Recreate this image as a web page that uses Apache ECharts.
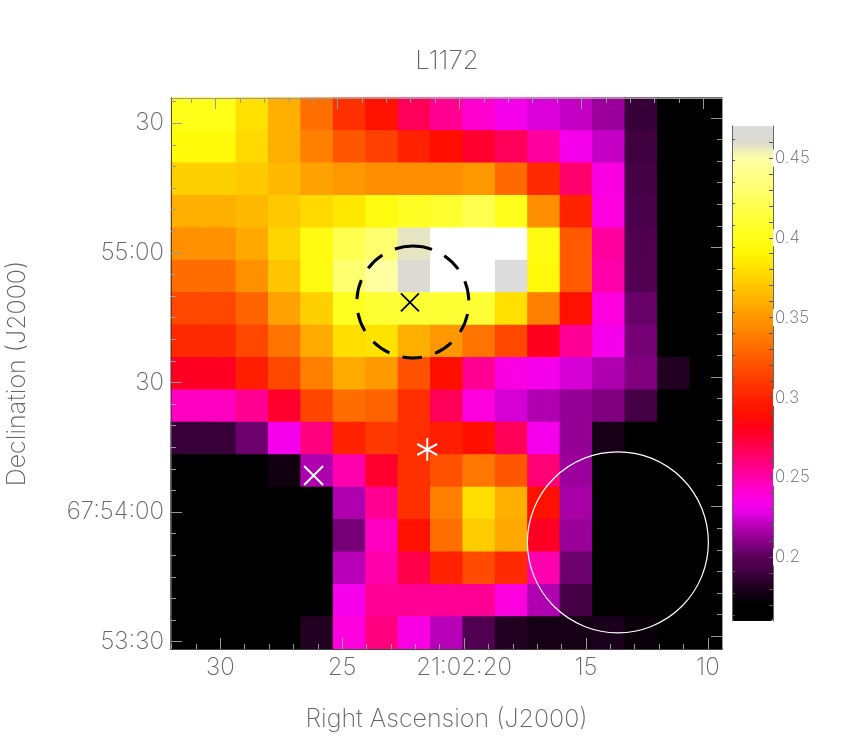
<!DOCTYPE html>
<html>
<head>
<meta charset="utf-8">
<title>L1172</title>
<script src="https://cdn.jsdelivr.net/npm/echarts@6/dist/echarts.min.js"></script>
<style>
  html, body { margin: 0; padding: 0; background: #fff; }
  #chart { width: 864px; height: 747px; }
</style>
</head>
<body>
<div id="chart"></div>
<script>
// pixel values, top row first
const cellRows = [
  [.40,.40,.381,.36,.333,.306,.292,.267,.255,.242,.2325,.226,.222,.214,.188,.165,.165],
  [.394,.394,.378,.36,.34,.322,.313,.30,.29,.276,.267,.2525,.2325,.222,.19,.165,.165],
  [.374,.374,.371,.364,.354,.35,.346,.346,.346,.35,.331,.303,.263,.236,.192,.165,.165],
  [.36,.36,.364,.371,.378,.384,.396,.405,.41,.42,.40,.346,.30,.238,.194,.165,.165],
  [.347,.347,.357,.376,.396,.42,.43,.457,.48,.48,.48,.396,.324,.2525,.197,.165,.165],
  [.332,.332,.347,.369,.396,.43,.448,.463,.48,.48,.47,.394,.324,.25,.198,.165,.165],
  [.316,.316,.328,.354,.374,.403,.412,.412,.412,.412,.381,.34,.291,.238,.203,.165,.165],
  [.303,.303,.316,.335,.358,.38,.382,.36,.35,.335,.316,.279,.254,.2325,.206,.165,.165],
  [.278,.278,.298,.316,.34,.358,.351,.32,.29,.255,.236,.2325,.225,.218,.208,.182,.165],
  [.245,.245,.255,.276,.315,.332,.328,.305,.267,.238,.225,.218,.212,.208,.192,.165,.165],
  [.188,.188,.204,.2325,.259,.30,.31,.305,.298,.29,.267,.2325,.212,.178,.165,.165,.165],
  [.165,.165,.165,.176,.218,.249,.276,.306,.32,.336,.322,.261,.214,.165,.165,.165,.165],
  [.165,.165,.165,.165,.165,.218,.255,.306,.34,.38,.36,.291,.216,.165,.165,.165,.165],
  [.165,.165,.165,.165,.165,.206,.245,.291,.333,.372,.357,.278,.213,.165,.165,.165,.165],
  [.165,.165,.165,.165,.165,.22,.25,.27,.30,.317,.303,.249,.204,.165,.165,.165,.165],
  [.165,.165,.165,.165,.165,.2325,.254,.254,.254,.254,.238,.218,.192,.165,.165,.165,.165],
  [.165,.165,.165,.165,.182,.238,.259,.236,.22,.197,.182,.178,.178,.18,.174,.165,.165]
];

// colour table, one entry per 0.01 from 0.16 to 0.47
const barColors = [
  '#000000','#000000','#1a001a','#400040','#580058','#8a008a','#b800b8','#f000f0',
  '#ff00d8','#ff00aa','#ff007a','#ff004b','#ff001b','#ff0f00','#ff2200','#ff3900',
  '#ff5100','#ff6800','#ff8000','#ff9700','#ffaf00','#ffc700','#ffde00','#fff600',
  '#ffff1a','#ffff30','#ffff50','#ffff70','#ffff88','#ffffa8','#dadad0','#dcdcdc'
];

const raMajor = [30, 25, 20, 15, 10];
const raLabels = ['30', '25', '21:02:20', '15', '10'];
const raMinor = [32, 31, 29, 28, 27, 26, 24, 23, 22, 21, 19, 18, 17, 16, 14, 13, 12, 11];
const decMajor = [90, 60, 30, 0, -30];
const decLabels = ['30', '55:00', '30', '67:54:00', '53:30'];
const decMinor = [95, 85, 80, 75, 70, 65, 55, 50, 45, 40, 35, 25, 20, 15, 10, 5, -5, -10, -15, -20, -25];
const barMajor = [.45, .4, .35, .3, .25, .2];
const barMinor = [.46, .44, .43, .42, .41, .39, .38, .37, .36, .34, .33, .32, .31, .29, .28, .27, .26, .24, .23, .22, .21, .19, .18, .17];
const barLeftTicks = [0,1,2,3,4,5,6,7,8,9,10,11,12,13,14,15,16,17,18,19,20,21,22];

const blackCross = [[22.22, 48.5]];
const whiteCross = [[26.17, 8.45]];
const whiteStar = [[21.51, 14.47]];
const beamDashed = [[22.10, 48.6]];
const beamSolid = [[13.69, -7.01]];

const FONT = 'Inter';
const WEIGHT = 200;
const TEXT = '#666';

var cells = [];
cellRows.forEach(function (row, r) {
  row.forEach(function (v, c) { cells.push([c, r, v]); });
});
var idx = cellRows[0].map(function (_, i) { return i; });

var box = { left: 171, top: 98, width: 551, height: 551, outerBoundsMode: 'none' };
var bar = { left: 732, top: 126, width: 41, height: 495, outerBoundsMode: 'none' };

function xTicks(grid, pos, min, max, vals, len, color, labels) {
  return {
    type: 'value', gridIndex: grid, position: pos, min: min, max: max, inverse: true, z: 3,
    splitLine: { show: false },
    axisLine: { show: true, onZero: false, lineStyle: { color: color } },
    axisTick: { show: true, inside: true, length: len, customValues: vals, lineStyle: { color: '#999' } },
    axisLabel: labels ? {
      customValues: vals, margin: 7, color: TEXT, fontFamily: FONT, fontWeight: WEIGHT, fontSize: 24,
      formatter: function (v) { return labels[vals.indexOf(v)]; }
    } : { show: false }
  };
}

function yTicks(grid, pos, min, max, vals, len, color, labels) {
  return {
    type: 'value', gridIndex: grid, position: pos, min: min, max: max, z: 3,
    splitLine: { show: false },
    axisLine: { show: true, onZero: false, lineStyle: { color: color } },
    axisTick: { show: true, inside: true, length: len, customValues: vals, lineStyle: { color: '#999' } },
    axisLabel: labels ? {
      customValues: vals, margin: 7, color: TEXT, fontFamily: FONT, fontWeight: WEIGHT, fontSize: 24,
      formatter: function (v) { return labels[vals.indexOf(v)]; }
    } : { show: false }
  };
}

function hiddenCat(grid, inverse) {
  return { type: 'category', gridIndex: grid, data: idx, show: false, inverse: inverse };
}

// cell edges fall between pixels, so the map is drawn three times to close the seams
function heatLayer() {
  return {
    type: 'heatmap', xAxisIndex: 0, yAxisIndex: 0, data: cells, z: 1, silent: true,
    progressive: 0, emphasis: { disabled: true },
    itemStyle: { borderWidth: 0, borderColor: 'transparent' }
  };
}

var nameStyle = { color: TEXT, fontFamily: FONT, fontWeight: WEIGHT, fontSize: 25 };

var xBottom = xTicks(1, 'bottom', 9.42, 32.02, raMajor, 11, '#444', raLabels);
xBottom.name = 'Right Ascension (J2000)';
xBottom.nameLocation = 'middle';
xBottom.nameGap = 58;
xBottom.nameTextStyle = nameStyle;

var yLeft = yTicks(1, 'left', -31.71, 95.83, decMajor, 11, '#444', decLabels);
yLeft.name = 'Declination (J2000)';
yLeft.nameLocation = 'middle';
yLeft.nameGap = 141;
yLeft.nameTextStyle = nameStyle;

var option = {
  animation: false,
  backgroundColor: '#fff',
  title: {
    text: 'L1172', left: 447, top: 48, textAlign: 'center', padding: 0,
    textStyle: { color: TEXT, fontFamily: FONT, fontSize: 26, fontWeight: WEIGHT }
  },
  grid: [
    Object.assign({}, box),
    Object.assign({}, box),
    Object.assign({}, box),
    Object.assign({}, bar)
  ],
  xAxis: [
    hiddenCat(0, false),
    xBottom,
    xTicks(1, 'top', 9.233, 31.83, raMajor, 11, '#999'),
    xTicks(2, 'bottom', 9.42, 32.02, raMinor, 5, '#444'),
    xTicks(2, 'top', 9.233, 31.83, raMinor, 5, '#999'),
    { type: 'value', gridIndex: 3, show: false, min: 0, max: 1 }
  ],
  yAxis: [
    hiddenCat(0, true),
    yLeft,
    yTicks(1, 'right', -32.94, 94.6, decMajor, 11, '#999'),
    yTicks(2, 'left', -31.71, 95.83, decMinor, 5, '#444'),
    yTicks(2, 'right', -32.94, 94.6, decMinor, 5, '#999'),
    {
      type: 'value', gridIndex: 3, position: 'right', min: .16, max: .47, z: 5,
      splitLine: { show: false },
      axisLine: { show: true, onZero: false, lineStyle: { color: '#666' } },
      axisTick: { show: true, inside: true, length: 4, customValues: barMajor.concat(barMinor), lineStyle: { color: '#555' } },
      axisLabel: {
        customValues: barMajor, margin: 0, color: TEXT, fontFamily: FONT, fontWeight: WEIGHT, fontSize: 17,
        backgroundColor: '#fff', padding: [0, 0, 0, 2],
        formatter: function (v) { return String(v); }
      }
    },
    {
      type: 'value', gridIndex: 3, position: 'left', min: -.277, max: 22.59, z: 5,
      splitLine: { show: false },
      axisLine: { show: true, onZero: false, lineStyle: { color: '#666' } },
      axisTick: { show: true, inside: true, length: 3, customValues: barLeftTicks, lineStyle: { color: '#555' } },
      axisLabel: { show: false }
    }
  ],
  visualMap: [
    {
      type: 'continuous', show: false, seriesIndex: [0, 1, 2], min: .16, max: .48,
      inRange: { color: barColors.concat('#ffffff') }
    },
    {
      type: 'continuous', show: true, seriesIndex: [], min: .16, max: .47,
      calculable: false, hoverLink: false, realtime: false,
      left: bar.left, top: bar.top, padding: 0, itemWidth: bar.width, itemHeight: bar.height,
      text: null, showLabel: false,
      inRange: { color: barColors }
    }
  ],
  series: [
    heatLayer(),
    heatLayer(),
    heatLayer(),
    {
      type: 'scatter', xAxisIndex: 1, yAxisIndex: 1, data: beamDashed, z: 4, silent: true,
      symbol: 'path://M56 0A56 56 0 1 1 56 112A56 56 0 1 1 56 0', symbolSize: 112,
      itemStyle: { color: 'none', borderColor: '#000', borderWidth: 3, borderType: [19.5, 13.8], opacity: 1 }
    },
    {
      type: 'scatter', xAxisIndex: 1, yAxisIndex: 1, data: beamSolid, z: 4, silent: true,
      symbol: 'circle', symbolSize: 181,
      itemStyle: { color: 'transparent', borderColor: '#fff', borderWidth: 1.2, opacity: 1 }
    },
    {
      type: 'scatter', xAxisIndex: 1, yAxisIndex: 1, data: blackCross, z: 4, silent: true,
      symbol: 'path://M0 0L20 20M20 0L0 20', symbolSize: 18,
      itemStyle: { color: 'none', borderColor: '#000', borderWidth: 1.8, opacity: 1 }
    },
    {
      type: 'scatter', xAxisIndex: 1, yAxisIndex: 1, data: whiteCross, z: 4, silent: true,
      symbol: 'path://M0 0L20 20M20 0L0 20', symbolSize: 19,
      itemStyle: { color: 'none', borderColor: '#fff', borderWidth: 2, opacity: 1 }
    },
    {
      type: 'scatter', xAxisIndex: 1, yAxisIndex: 1, data: whiteStar, z: 4, silent: true,
      symbol: 'path://M10 0L10 23M0 6L20 17M0 17L20 6', symbolSize: [20, 23],
      itemStyle: { color: 'none', borderColor: '#fff', borderWidth: 2, opacity: 1 }
    }
  ]
};

var chart = echarts.init(document.getElementById('chart'), null, { renderer: 'canvas' });
chart.setOption(option);
</script>
</body>
</html>
